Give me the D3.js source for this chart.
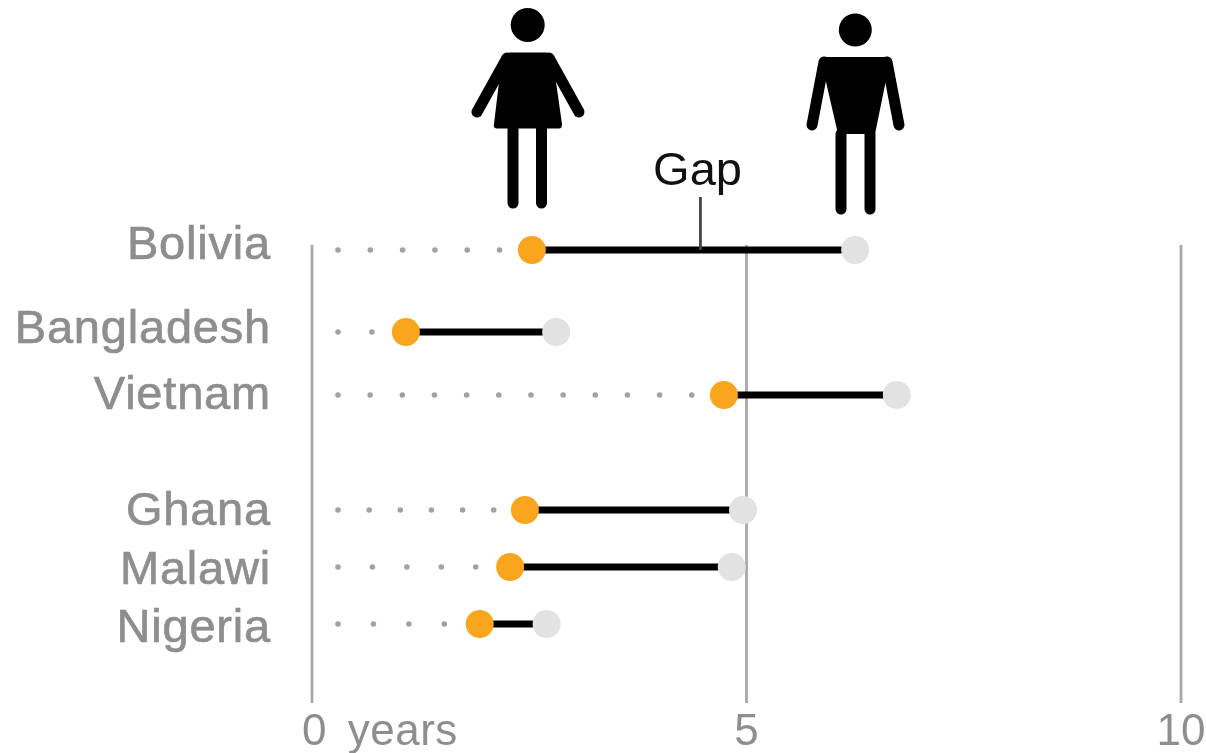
<!DOCTYPE html>
<html><head><meta charset="utf-8">
<script src="https://cdn.jsdelivr.net/npm/d3@7/dist/d3.min.js"></script>
<style>html,body{margin:0;background:#fff;overflow:hidden}svg{display:block;filter:blur(.6px)}text{font-family:"Liberation Sans",Arial,sans-serif}</style>
</head><body><div id="c"></div>
<script>
const countries = ["Bolivia","Bangladesh","Vietnam","Ghana","Malawi","Nigeria"];
const women = [2.53,1.08,4.74,2.45,2.28,1.93];
const men = [6.25,2.81,6.73,4.96,4.83,2.70];
const dotCounts = [6,2,12,6,5,4];
const ticks = [0,5,10];
const gapValue = 4.47;

const W=1206,H=753;
const svg=d3.select("#c").append("svg").attr("width",W).attr("height",H);
const x=d3.scaleLinear().domain([0,10]).range([312,1181]);
const y=d3.scaleOrdinal().domain(countries).range([250,332,395,510,567,624]);
const yLabel=d3.scaleOrdinal().domain(countries).range([259,343,409,525,584,642]);
const grey="#8e8e8e";
const rows=countries.map((c,i)=>({c,w:women[i],m:men[i],n:dotCounts[i]}));

svg.append("g").selectAll("line").data(ticks).join("line")
  .attr("x1",d=>x(d)).attr("x2",d=>x(d)).attr("y1",245).attr("y2",703)
  .attr("stroke","#a8a8a8").attr("stroke-width",2.8);
svg.append("g").selectAll("text").data(ticks).join("text")
  .attr("x",d=>x(d)+(d===0?-10:0)).attr("y",745)
  .attr("text-anchor",d=>d===0?"start":"middle")
  .attr("font-size",44).attr("fill",grey)
  .attr("word-spacing",d=>d===0?"8":"0")
  .attr("letter-spacing",d=>d===0?"0.5":"0")
  .text(d=>d===0?"0 years":d);

svg.append("g").selectAll("text").data(rows).join("text")
  .attr("x",271).attr("y",d=>yLabel(d.c)).attr("text-anchor","end")
  .attr("font-size",47).attr("letter-spacing",0.8).attr("fill",grey)
  .attr("stroke",grey).attr("stroke-width",0.7).text(d=>d.c);

const row=svg.append("g").selectAll("g").data(rows).join("g");
row.selectAll("circle.dot").data(d=>d3.range(d.n).map(k=>({k,d}))).join("circle")
  .attr("class","dot")
  .attr("cx",e=>338+(x(e.d.w)-338)/e.d.n*e.k)
  .attr("cy",e=>y(e.d.c)).attr("r",2.8).attr("fill","#a2a2a2");
row.append("line").attr("x1",d=>x(d.w)).attr("x2",d=>x(d.m))
  .attr("y1",d=>y(d.c)).attr("y2",d=>y(d.c)).attr("stroke","#000").attr("stroke-width",7);
row.append("circle").attr("cx",d=>x(d.m)).attr("cy",d=>y(d.c)).attr("r",14).attr("fill","#e2e2e2");
row.append("circle").attr("cx",d=>x(d.w)).attr("cy",d=>y(d.c)).attr("r",14).attr("fill","#f9a61e");

svg.append("line").attr("x1",x(gapValue)).attr("x2",x(gapValue)).attr("y1",197).attr("y2",y("Bolivia"))
  .attr("stroke","#444").attr("stroke-width",2.8);
svg.append("text").attr("x",697.5).attr("y",185).attr("text-anchor","middle")
  .attr("font-size",47).attr("fill","#111").text("Gap");

function limb(g,a,b,c,d,w){g.append("line").attr("x1",a).attr("y1",b).attr("x2",c).attr("y2",d)
  .attr("stroke","#000").attr("stroke-width",w).attr("stroke-linecap","round");}
const wf=svg.append("g");
wf.append("circle").attr("cx",527.7).attr("cy",25).attr("r",17);
wf.append("path").attr("d","M509 52.5H547L556 82L562 124Q562 128.5 559 128.5H497Q493 128.5 494 124L499 82Z");
limb(wf,507,58,477,112,11);limb(wf,549,58,579,112,11);
limb(wf,513,128,513,203,11);limb(wf,541.5,128,541.5,203,11);

const mf=svg.append("g");
mf.append("circle").attr("cx",855.3).attr("cy",30).attr("r",16.5);
mf.append("path").attr("d","M825 57H887L890 62L885 85L875 134H838L826.7 85L822 62Z");
limb(mf,824,62,812,125,11);limb(mf,887,62,899,125,11);
limb(mf,841,134,841,209,11);limb(mf,870,134,870,209,11);
</script></body></html>
